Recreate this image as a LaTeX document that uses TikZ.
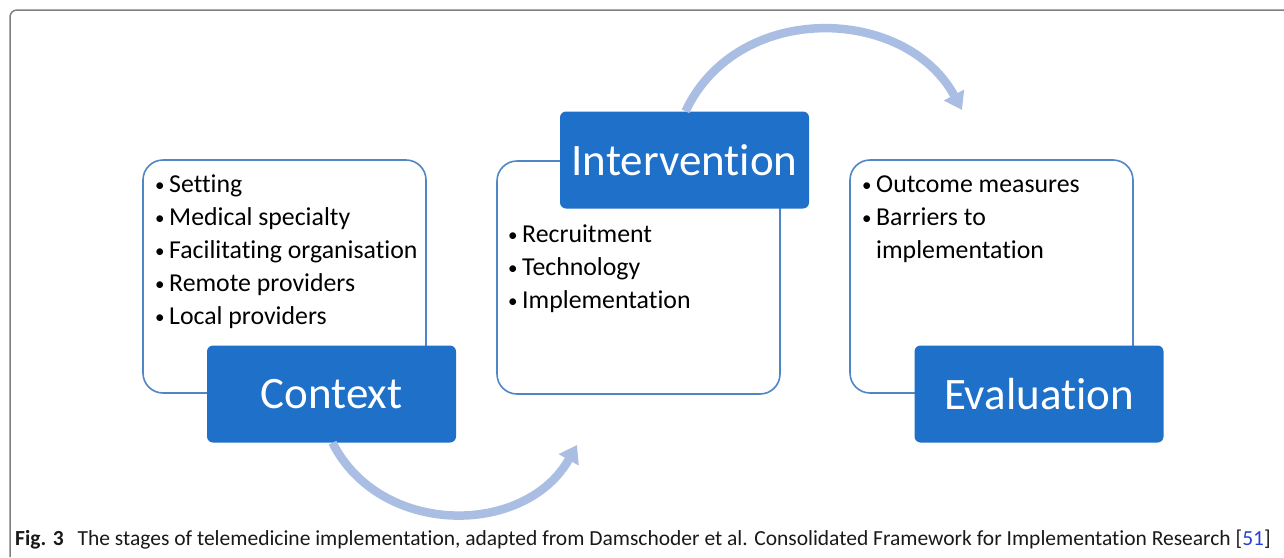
\documentclass[tikz,border=0pt]{standalone}
\usepackage{fontspec}
\setmainfont{Carlito}[Ligatures=NoCommon]
\usetikzlibrary{arrows.meta}

\definecolor{headblue}{HTML}{1F70C8}
\definecolor{lineblue}{HTML}{4F86C6}
\definecolor{arcblue}{HTML}{AABDE2}
\definecolor{framegray}{HTML}{7F7F7F}
\definecolor{linkblue}{HTML}{2B3FD6}

\begin{document}
\begin{tikzpicture}[x=1pt,y=-1pt,line join=round]
	\tikzset{outline/.style={draw=lineblue,line width=1.6pt,rounded corners=20pt,fill=white,minimum width=283pt,minimum height=233pt,inner sep=0pt}};
	\tikzset{head/.style={fill=headblue,draw=none,rounded corners=6pt,text=white,minimum width=249pt,minimum height=97pt,inner sep=0pt,font=\fontsize{45pt}{50pt}\selectfont}};
	\tikzset{item/.style={anchor=base west,inner sep=0pt,font=\fontsize{25.8pt}{30pt}\selectfont}};
	\tikzset{curvearrow/.style={draw=arcblue,line width=8.5pt,-{Triangle[length=17pt,width=22pt]}}};
	\newcommand{\bul}{\makebox[14pt][l]{\raisebox{1pt}{\fontsize{19pt}{19pt}\selectfont •}}}

	\useasboundingbox (0,0) rectangle (1284,557);
	% frame
	\draw[framegray,line width=1.5pt,rounded corners=7pt] (10,557) -- (10,10) -- (1284,10);

	% outline boxes
	\node[outline] (ctxbox) at (284.5,276.5) {};
	\node[outline] (intbox) at (638.5,277.5) {};
	\node[outline] (evabox) at (991.5,276.5) {};

	% heads
	\node[head] (ctxhead) at (331.5,394) {Context};
	\node[head] (inthead) at (684.5,160) {Intervention};
	\node[head] (evahead) at (1039,394) {Evaluation};

	% lists
	\foreach \t [count=\i] in {Setting,Medical specialty,Facilitating organisation,Remote providers,Local providers}
		\node[item] (ctx\i) at (155,{159+33*\i}) {\bul\t};
	\foreach \t [count=\i] in {Recruitment,Technology,Implementation}
		\node[item] (int\i) at (508,{209+33*\i}) {\bul\t};
	\node[item] (eva1) at (862,192) {\bul Outcome measures};
	\node[item] (eva2) at (862,225) {\bul Barriers to};
	\node[item] (eva3) at (862,258) {\hspace*{14pt}implementation};

	% arrows
	\coordinate (toint) at (577,445);
	\coordinate (toeva) at (962,110);
	\draw[curvearrow] ([xshift=1pt]ctxhead.south) .. controls (380,537) and (525,537) .. (toint);
	\draw[curvearrow] ([xshift=1pt]inthead.north) .. controls (738,0) and (906,6) .. (toeva);

	% caption
	\node[anchor=base west,inner sep=0pt,text=black!90,font=\fontsize{21.5pt}{24pt}\selectfont] (cap) at (15,545)
		{\textbf{Fig. 3}\hspace{14pt}The stages of telemedicine implementation, adapted from Damschoder et al. Consolidated Framework for Implementation Research [\textcolor{linkblue}{51}]};
\end{tikzpicture}
\end{document}
